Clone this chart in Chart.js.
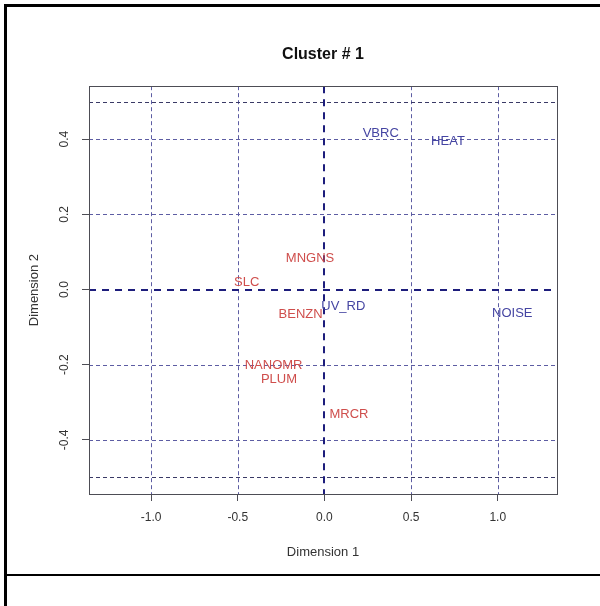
<!DOCTYPE html>
<html>
<head>
<meta charset="utf-8">
<script src="https://cdn.jsdelivr.net/npm/chart.js@4/dist/chart.umd.min.js"></script>
<style>
  html, body { margin: 0; padding: 0; background: #fff; }
  #wrap { position: relative; width: 600px; height: 606px; overflow: hidden; }
  #wrap canvas { position: absolute; left: 0; top: 0; }
  .frame { position: absolute; left: 4px; top: 4px; width: 600px; height: 610px;
           border-left: 3px solid #000; border-top: 3px solid #000; box-sizing: border-box; }
  .rule { position: absolute; left: 4px; top: 574px; width: 596px; height: 2px; background: #000; }
</style>
</head>
<body>
<div id="wrap">
  <canvas id="plot" width="600" height="606"></canvas>
  <div class="frame"></div>
  <div class="rule"></div>
</div>
<script>
// Term coordinates on the first two dimensions, cluster 1
const terms    = ['VBRC', 'HEAT', 'MNGNS', 'SLC', 'BENZN', 'UV_RD', 'NANOMR', 'PLUM', 'MRCR', 'NOISE'];
const dim1     = [0.325, 0.713, -0.083, -0.448, -0.137, 0.109, -0.293, -0.262, 0.142, 1.084];
const dim2     = [0.415, 0.393, 0.083, 0.018, -0.065, -0.046, -0.201, -0.239, -0.331, -0.063];
const termGroup = ['b', 'b', 'a', 'a', 'a', 'b', 'a', 'a', 'a', 'b'];

// Axis ticks and guide lines
const xTickValues  = [-1.0, -0.5, 0.0, 0.5, 1.0];
const yTickValues  = [-0.4, -0.2, 0.0, 0.2, 0.4];
const xGuideValues = [-1.0, -0.5, 0.5, 1.0];
const yGuideValues = [-0.4, -0.2, 0.2, 0.4];
const yLimitValues = [-0.5, 0.5];
const xRange = [-1.358, 1.342];
const yRange = [-0.544, 0.541];

const groupColors = { a: '#cf4e4c', b: '#4545a2' };
const FONT = "'Liberation Sans', Arial, sans-serif";

function hline(ctx, x0, x1, y) { ctx.beginPath(); ctx.moveTo(x0, y); ctx.lineTo(x1, y); ctx.stroke(); }
function vline(ctx, x, y0, y1) { ctx.beginPath(); ctx.moveTo(x, y0); ctx.lineTo(x, y1); ctx.stroke(); }

const guides = {
  id: 'guides',
  beforeDatasetsDraw(chart) {
    const { ctx, chartArea: a, scales: { x, y } } = chart;
    ctx.save();
    ctx.beginPath();
    ctx.rect(a.left, a.top, a.right - a.left, a.bottom - a.top);
    ctx.clip();
    ctx.lineWidth = 1;
    ctx.setLineDash([4, 3]);
    ctx.strokeStyle = '#5d5da3';
    xGuideValues.forEach(v => vline(ctx, Math.round(x.getPixelForValue(v)) + 0.5, a.top, a.bottom));
    yGuideValues.forEach(v => hline(ctx, a.left, a.right, Math.round(y.getPixelForValue(v)) + 0.5));
    ctx.strokeStyle = '#3a3a66';
    yLimitValues.forEach(v => hline(ctx, a.left, a.right, Math.round(y.getPixelForValue(v)) + 0.5));
    // zero axes
    ctx.lineWidth = 2;
    ctx.setLineDash([7, 6]);
    ctx.strokeStyle = '#1d1d7c';
    hline(ctx, a.left, a.right, Math.round(y.getPixelForValue(0)));
    vline(ctx, Math.round(x.getPixelForValue(0)), a.top, a.bottom);
    ctx.restore();

    ctx.save();
    ctx.strokeStyle = '#4d4d55';
    ctx.lineWidth = 1;
    ctx.strokeRect(Math.round(a.left) + 0.5, Math.round(a.top) + 0.5,
                   Math.round(a.right - a.left), Math.round(a.bottom - a.top));
    ctx.restore();
  }
};

const termLabels = {
  id: 'termLabels',
  afterDatasetsDraw(chart) {
    const { ctx } = chart;
    const meta = chart.getDatasetMeta(0);
    ctx.save();
    ctx.font = '13px ' + FONT;
    ctx.textAlign = 'center';
    ctx.textBaseline = 'middle';
    meta.data.forEach((pt, i) => {
      ctx.fillStyle = groupColors[termGroup[i]];
      ctx.fillText(terms[i], pt.x, pt.y);
    });
    ctx.restore();
  }
};

new Chart(document.getElementById('plot'), {
  type: 'scatter',
  data: {
    datasets: [{
      data: terms.map((t, i) => ({ x: dim1[i], y: dim2[i] })),
      pointRadius: 0,
      pointHoverRadius: 0
    }]
  },
  options: {
    responsive: false,
    animation: false,
    devicePixelRatio: 1,
    layout: { padding: { top: 0, left: 0, right: 43, bottom: 0 } },
    plugins: {
      legend: { display: false },
      tooltip: { enabled: false },
      title: {
        display: true,
        fullSize: false,
        text: 'Cluster # 1',
        color: '#111',
        font: { family: FONT, size: 16, weight: 'bold' },
        padding: { top: 45, bottom: 22 }
      }
    },
    scales: {
      x: {
        type: 'linear',
        min: xRange[0], max: xRange[1],
        afterBuildTicks: s => { s.ticks = xTickValues.map(v => ({ value: v })); },
        afterFit: s => { s.height = 112; },
        grid: { drawOnChartArea: false, drawTicks: true, tickLength: 7, color: '#4d4d55' },
        border: { display: false },
        ticks: {
          padding: 9, color: '#333',
          font: { family: FONT, size: 12 },
          maxRotation: 0, minRotation: 0, autoSkip: false,
          callback: v => v.toFixed(1)
        },
        title: {
          display: true, text: 'Dimension 1', color: '#333',
          font: { family: FONT, size: 13 },
          padding: { top: 0, bottom: 46 }
        }
      },
      y: {
        type: 'linear',
        min: yRange[0], max: yRange[1],
        afterBuildTicks: s => { s.ticks = yTickValues.map(v => ({ value: v })); },
        afterFit: s => { s.width = 89; },
        grid: { drawOnChartArea: false, drawTicks: true, tickLength: 7, color: '#4d4d55' },
        border: { display: false },
        ticks: {
          padding: 7, color: '#333',
          font: { family: FONT, size: 12 },
          minRotation: 90, maxRotation: 90, crossAlign: 'center', autoSkip: false,
          callback: v => v.toFixed(1)
        },
        title: {
          display: true, text: 'Dimension 2', color: '#333',
          font: { family: FONT, size: 13 },
          padding: { top: 27, bottom: 0 }
        }
      }
    }
  },
  plugins: [guides, termLabels]
});
</script>
</body>
</html>
